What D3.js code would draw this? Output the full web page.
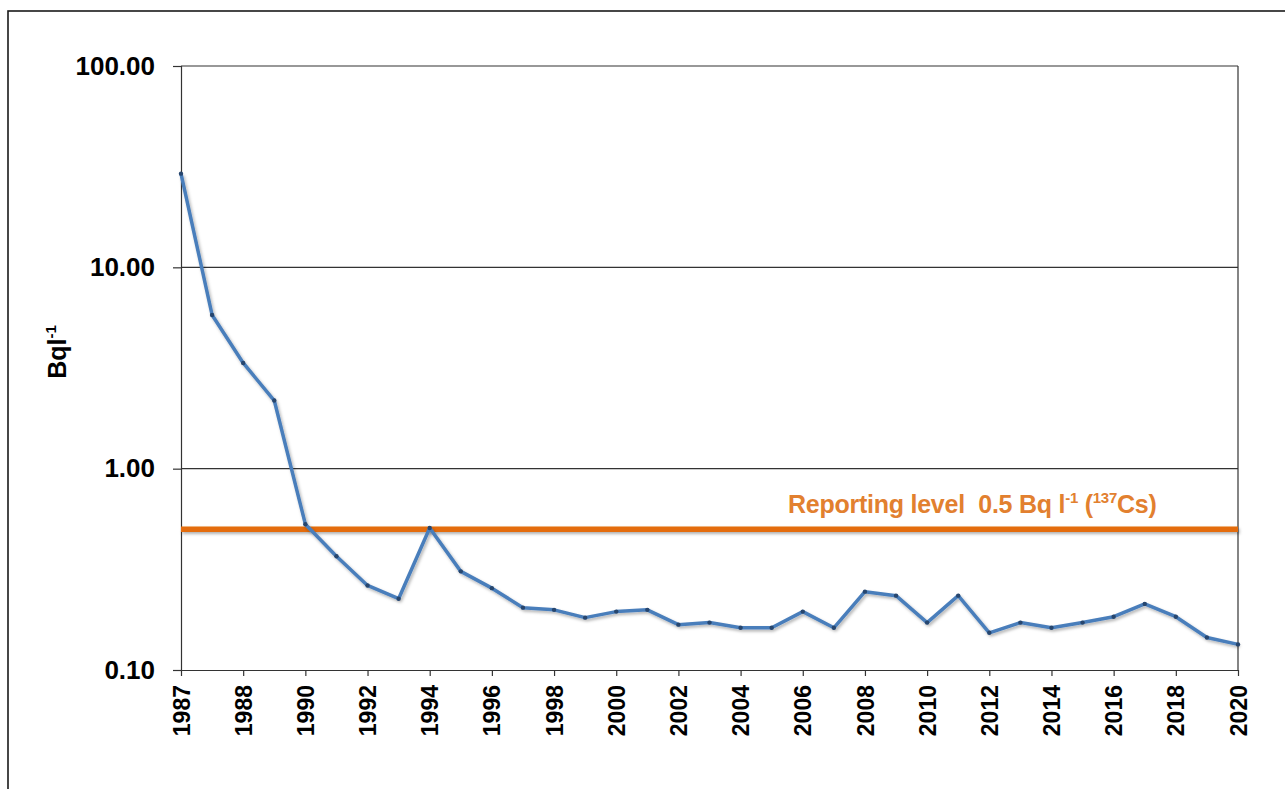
<!DOCTYPE html>
<html>
<head>
<meta charset="utf-8">
<script src="https://cdn.jsdelivr.net/npm/d3@7"></script>
<style>
  html, body { margin: 0; padding: 0; background: #fff; }
  svg { display: block; font-family: Arial, "Liberation Sans", sans-serif; }
</style>
</head>
<body>
<svg id="chart" width="1285" height="789"></svg>
<script>
// Activity values (Bq l-1), one per category slot on the x axis
const values = [29.2, 5.8, 3.35, 2.18, 0.53, 0.367, 0.263, 0.226, 0.507, 0.309,
  0.255, 0.204, 0.199, 0.182, 0.195, 0.199, 0.168, 0.172, 0.162, 0.162,
  0.195, 0.162, 0.245, 0.234, 0.172, 0.234, 0.153, 0.172, 0.162, 0.172,
  0.184, 0.213, 0.184, 0.145, 0.134];
// labelled slots and their text
const xTickIdx = [0, 2, 4, 6, 8, 10, 12, 14, 16, 18, 20, 22, 24, 26, 28, 30, 32, 34];
const xTickLabels = ["1987", "1988", "1990", "1992", "1994", "1996", "1998", "2000", "2002",
  "2004", "2006", "2008", "2010", "2012", "2014", "2016", "2018", "2020"];
const yTicks = [0.1, 1, 10, 100];
const reportingLevel = 0.5;

const svg = d3.select('#chart');
const m = { left: 181, right: 1238, top: 66, bottom: 670 };

const x = d3.scaleLinear().domain([0, values.length - 1]).range([m.left, m.right]);
const y = d3.scaleLog().domain([0.1, 100]).range([m.bottom, m.top]);

// user-space filter so the flat orange line still renders
const defs = svg.append('defs');
defs.html(`
  <filter id="shadow" filterUnits="userSpaceOnUse" x="0" y="0" width="1285" height="789">
    <feDropShadow dx="1.5" dy="2" stdDeviation="1.6" flood-color="#000" flood-opacity="0.3"/>
  </filter>`);

// outer frame (runs off the right/bottom edge like the source)
svg.append('rect').attr('x', 8).attr('y', 11).attr('width', 1400).attr('height', 900)
  .attr('fill', 'none').attr('stroke', '#1a1a1a').attr('stroke-width', 1.6);

// horizontal gridlines
svg.append('g').selectAll('line').data(yTicks.slice(1)).join('line')
  .attr('x1', m.left).attr('x2', m.right).attr('y1', d => y(d)).attr('y2', d => y(d))
  .attr('stroke', '#333').attr('stroke-width', 1.2);
// right border
svg.append('line').attr('x1', m.right).attr('x2', m.right).attr('y1', m.top).attr('y2', m.bottom)
  .attr('stroke', '#333').attr('stroke-width', 1.2);

// y axis
const gy = svg.append('g').attr('transform', `translate(${m.left},0)`)
  .call(d3.axisLeft(y).tickValues(yTicks).tickFormat(d3.format('.2f')).tickSize(8).tickPadding(18));
gy.select('.domain').attr('stroke', '#333').attr('stroke-width', 1.2);
gy.selectAll('.tick line').attr('stroke', '#333').attr('stroke-width', 1.2);
gy.selectAll('.tick text').attr('font-size', 26).attr('font-weight', 'bold').attr('fill', '#000')
  .attr('font-family', 'Arial, "Liberation Sans", sans-serif');

// x axis
const gx = svg.append('g').attr('transform', `translate(0,${m.bottom})`)
  .call(d3.axisBottom(x).tickValues(xTickIdx).tickFormat((d, i) => xTickLabels[i]).tickSize(6).tickSizeOuter(0));
gx.select('.domain').attr('stroke', '#333').attr('stroke-width', 1.2);
gx.selectAll('.tick line').attr('stroke', '#333').attr('stroke-width', 1.2);
gx.selectAll('.tick text').attr('font-size', 23).attr('font-weight', 'bold').attr('fill', '#000')
  .attr('font-family', 'Arial, "Liberation Sans", sans-serif')
  .attr('text-anchor', 'end').attr('transform', 'rotate(-90)')
  .attr('x', -15).attr('y', 0).attr('dy', '0.35em');

// y title
const yt = svg.append('text').attr('transform', 'translate(66,352) rotate(-90)')
  .attr('text-anchor', 'middle').attr('font-size', 25).attr('font-weight', 'bold').attr('fill', '#000');
yt.append('tspan').text('Bql');
yt.append('tspan').attr('font-size', 15).attr('dy', -10).text('-1');

// reporting level line + label
svg.append('line').attr('x1', m.left).attr('x2', m.right)
  .attr('y1', y(reportingLevel)).attr('y2', y(reportingLevel))
  .attr('stroke', '#e46c0a').attr('stroke-width', 5.5).attr('filter', 'url(#shadow)');
const rl = svg.append('text').attr('x', 788).attr('y', 513).attr('font-size', 25).attr('font-weight', 'bold')
  .attr('fill', '#e2802f').attr('letter-spacing', -0.25).style('white-space', 'pre');
rl.append('tspan').text('Reporting level  0.5 Bq l');
rl.append('tspan').attr('font-size', 15).attr('dy', -10).text('-1');
rl.append('tspan').attr('dy', 10).text(' (');
rl.append('tspan').attr('font-size', 15).attr('dy', -10).text('137');
rl.append('tspan').attr('dy', 10).text('Cs)');

// data line
const line = d3.line().x((d, i) => x(i)).y(d => y(d));
svg.append('path').datum(values).attr('d', line).attr('fill', 'none')
  .attr('stroke', '#4a7ebb').attr('stroke-width', 3.5).attr('stroke-linejoin', 'round')
  .attr('filter', 'url(#shadow)');
svg.append('g').selectAll('circle').data(values).join('circle')
  .attr('cx', (d, i) => x(i)).attr('cy', d => y(d)).attr('r', 2.2).attr('fill', '#27466e');
</script>
</body>
</html>
